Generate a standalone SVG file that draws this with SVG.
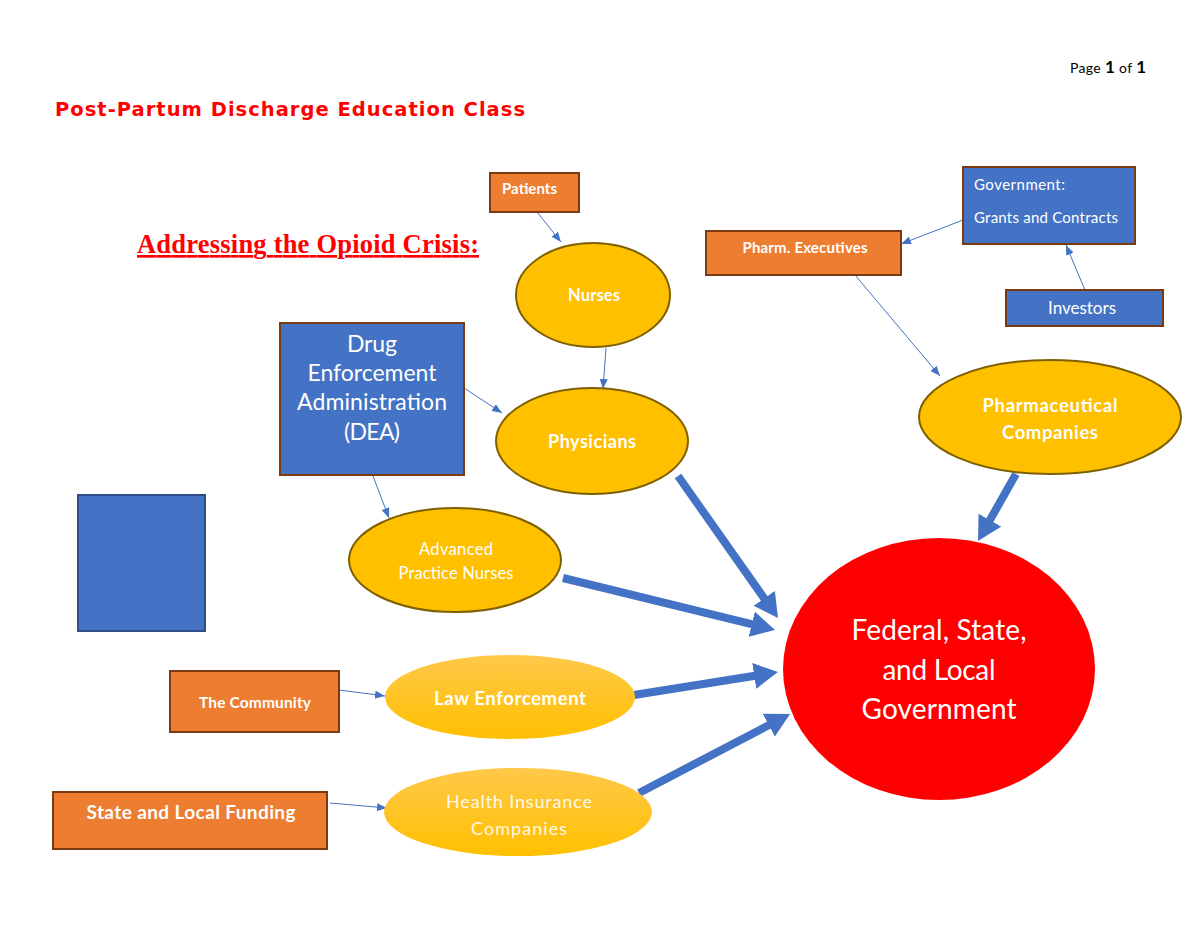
<svg xmlns="http://www.w3.org/2000/svg" width="1200" height="927" viewBox="0 0 1200 927">
<style>
.box-o{fill:#ED7D31;stroke:#7B3A10;stroke-width:2}
.box-b{fill:#4472C4;stroke:#7B3A10;stroke-width:2}
.ell{fill:#FFC000;stroke:#7F6000;stroke-width:2}
.t{font-family:Lato,"Open Sans","Liberation Sans",sans-serif;fill:#FFFFFF}
.b{font-weight:bold}
.thin{stroke:#4472C4;stroke-width:1;fill:none}
.thick{stroke:#4472C4;stroke-width:8;fill:none}
</style>
<defs>
<marker id="ah" markerUnits="userSpaceOnUse" viewBox="0 0 10 8" markerWidth="10" markerHeight="8" refX="10" refY="4" orient="auto">
<path d="M0,0 L10,4 L0,8 Z" fill="#4472C4"/>
</marker>
<marker id="bh" markerUnits="userSpaceOnUse" viewBox="0 0 24 26" markerWidth="24" markerHeight="26" refX="4" refY="13" orient="auto">
<path d="M0,0 L24,13 L0,26 Z" fill="#4472C4"/>
</marker>
<linearGradient id="lg" x1="0" y1="0" x2="0" y2="1">
<stop offset="0" stop-color="#FFC84A"/>
<stop offset="1" stop-color="#FFC000"/>
</linearGradient>
</defs>
<rect width="1200" height="927" fill="#FFFFFF"/>

<text x="1070" y="73" font-family="Lato,'Liberation Sans',sans-serif" font-size="14" fill="#000" textLength="76">Page <tspan font-weight="bold" font-size="17">1</tspan> of <tspan font-weight="bold" font-size="17">1</tspan></text>
<text x="55" y="116" font-family="'DejaVu Sans',Verdana,sans-serif" font-weight="bold" font-size="19.5" fill="#FF0000" textLength="470">Post-Partum Discharge Education Class</text>
<text x="137" y="253" font-family="'Liberation Serif','Times New Roman',serif" font-weight="bold" font-size="26.5" fill="#FF0000" text-decoration="underline" textLength="342">Addressing the Opioid Crisis:</text>

<g id="connectors">
<line class="thin" x1="537" y1="212" x2="561" y2="242" marker-end="url(#ah)"/>
<line class="thin" x1="606" y1="348" x2="603" y2="389" marker-end="url(#ah)"/>
<line class="thin" x1="464" y1="388" x2="502" y2="413" marker-end="url(#ah)"/>
<line class="thin" x1="373" y1="476" x2="389" y2="518" marker-end="url(#ah)"/>
<line class="thin" x1="963" y1="220" x2="901" y2="244" marker-end="url(#ah)"/>
<line class="thin" x1="1085" y1="290" x2="1066" y2="245" marker-end="url(#ah)"/>
<line class="thin" x1="855" y1="275" x2="940" y2="376" marker-end="url(#ah)"/>
<line class="thin" x1="339" y1="690" x2="385" y2="696" marker-end="url(#ah)"/>
<line class="thin" x1="330" y1="803" x2="387" y2="808" marker-end="url(#ah)"/>
<line class="thick" x1="678" y1="476" x2="766.5" y2="601.6" marker-end="url(#bh)"/>
<line class="thick" x1="563" y1="578" x2="755.6" y2="625.2" marker-end="url(#bh)"/>
<line class="thick" x1="634" y1="695" x2="758.2" y2="675.2" marker-end="url(#bh)"/>
<line class="thick" x1="639" y1="793" x2="772.3" y2="723.3" marker-end="url(#bh)"/>
<line class="thick" x1="1016" y1="474" x2="987.9" y2="523.6" marker-end="url(#bh)"/>
</g>

<g id="patients">
<rect class="box-o" x="490" y="173" width="89" height="39"/>
<text class="t b" x="502" y="194" font-size="15" textLength="55">Patients</text>
</g>
<g id="nurses">
<ellipse class="ell" cx="593" cy="295" rx="77" ry="52"/>
<text class="t b" x="594" y="301" font-size="16.5" text-anchor="middle" textLength="52">Nurses</text>
</g>
<g id="physicians">
<ellipse class="ell" cx="592" cy="441" rx="96" ry="53"/>
<text class="t b" x="592" y="448" font-size="18" text-anchor="middle" textLength="88">Physicians</text>
</g>
<g id="dea">
<rect class="box-b" x="280" y="323" width="184" height="152"/>
<text class="t" x="372" y="352" font-size="23" text-anchor="middle" textLength="50">Drug</text>
<text class="t" x="372" y="381" font-size="23" text-anchor="middle" textLength="129">Enforcement</text>
<text class="t" x="372" y="410" font-size="23" text-anchor="middle" textLength="150">Administration</text>
<text class="t" x="372" y="440" font-size="23" text-anchor="middle" textLength="56">(DEA)</text>
</g>
<g id="apn">
<ellipse class="ell" cx="455" cy="560" rx="106" ry="52"/>
<text class="t" x="456" y="555" font-size="16.5" text-anchor="middle" textLength="74">Advanced</text>
<text class="t" x="456" y="579" font-size="16.5" text-anchor="middle" textLength="115">Practice Nurses</text>
</g>
<g id="pharm-exec">
<rect class="box-o" x="706" y="231" width="195" height="44"/>
<text class="t b" x="805" y="253" font-size="15" text-anchor="middle" textLength="125">Pharm. Executives</text>
</g>
<g id="government">
<rect class="box-b" x="963" y="167" width="172" height="77"/>
<text class="t" x="974" y="190" font-size="15" textLength="91">Government:</text>
<text class="t" x="974" y="223" font-size="15" textLength="144">Grants and Contracts</text>
</g>
<g id="investors">
<rect class="box-b" x="1006" y="290" width="157" height="36"/>
<text class="t" x="1082" y="314" font-size="17" text-anchor="middle" textLength="68">Investors</text>
</g>
<g id="pharma">
<ellipse class="ell" cx="1050" cy="417" rx="131" ry="57"/>
<text class="t b" x="1050" y="412" font-size="18.5" text-anchor="middle" textLength="135">Pharmaceutical</text>
<text class="t b" x="1050" y="439" font-size="18.5" text-anchor="middle" textLength="96">Companies</text>
</g>
<g id="federal">
<ellipse cx="939" cy="669" rx="156" ry="131" fill="#FF0000"/>
<text class="t" x="939" y="640" font-size="28" text-anchor="middle" textLength="175">Federal, State,</text>
<text class="t" x="939" y="680" font-size="28" text-anchor="middle" textLength="113">and Local</text>
<text class="t" x="939" y="719" font-size="28" text-anchor="middle" textLength="155">Government</text>
</g>
<g id="blank">
<rect x="78" y="495" width="127" height="136" fill="#4472C4" stroke="#2F4F8A" stroke-width="2"/>
</g>
<g id="law">
<ellipse cx="510" cy="697" rx="125" ry="42" fill="url(#lg)"/>
<text class="t b" x="510" y="705" font-size="18.5" text-anchor="middle" textLength="152">Law Enforcement</text>
</g>
<g id="community">
<rect class="box-o" x="170" y="671" width="169" height="61"/>
<text class="t b" x="255" y="708" font-size="15.5" text-anchor="middle" textLength="112">The Community</text>
</g>
<g id="health">
<ellipse cx="518" cy="812" rx="134" ry="44" fill="url(#lg)"/>
<text class="t" x="519" y="808" font-size="18" text-anchor="middle" fill-opacity="0.92" textLength="146">Health Insurance</text>
<text class="t" x="519" y="835" font-size="18" text-anchor="middle" fill-opacity="0.92" textLength="96">Companies</text>
</g>
<g id="funding">
<rect class="box-o" x="53" y="792" width="274" height="57"/>
<text class="t b" x="191" y="819" font-size="19" text-anchor="middle" textLength="209">State and Local Funding</text>
</g>
</svg>
